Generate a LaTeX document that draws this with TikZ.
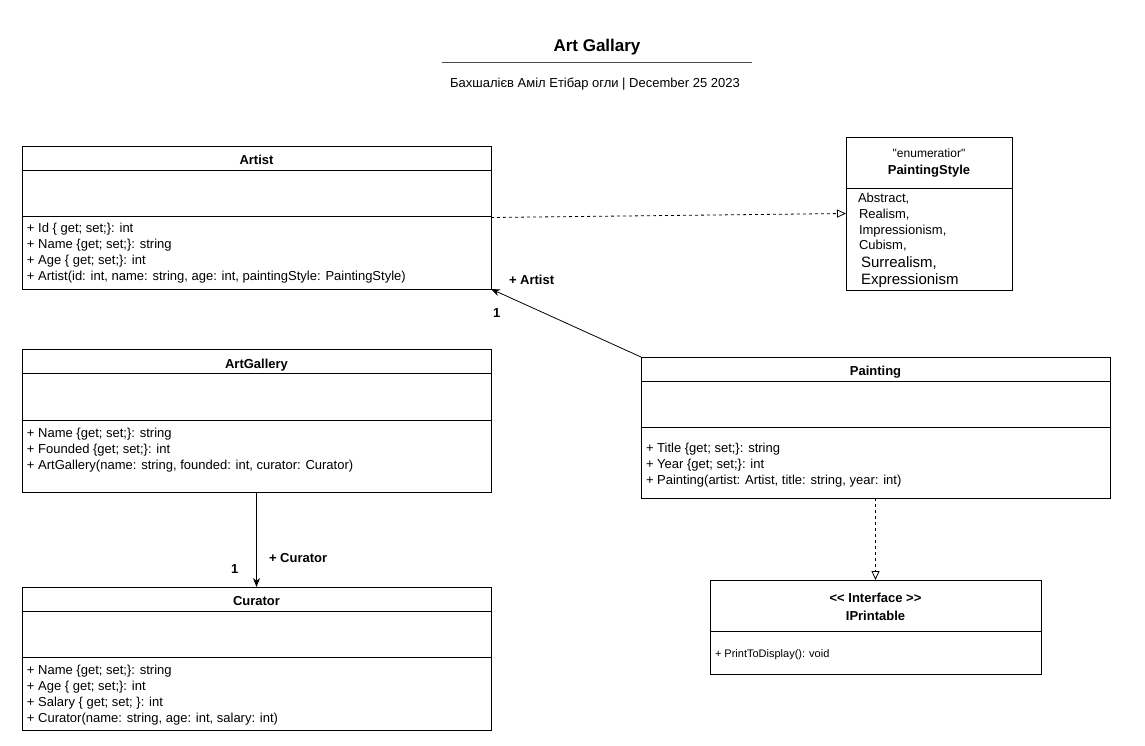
\documentclass[tikz,border=0pt]{standalone}
\usepackage{fontspec}
\setmainfont{Liberation Sans}[Ligatures=TeXOff]
\usetikzlibrary{arrows.meta}

\begin{document}
\begin{tikzpicture}[y=1pt, x=1pt, yscale=-1, inner sep=0pt, outer sep=0pt,
  classbox/.style={draw=black, line width=0.8pt, rectangle, anchor=north west, minimum width=469pt, minimum height=143pt},
  sep/.style={draw=black, line width=0.8pt},
  member/.style={anchor=base west, font=\fontsize{13}{15}\selectfont},
  cname/.style={anchor=base, font=\fontsize{13}{15}\selectfont\bfseries},
  role/.style={anchor=base west, font=\fontsize{13}{15}\selectfont\bfseries},
  assoc/.style={draw=black, line width=0.8pt, -{Stealth[length=9pt,width=7pt]}},
  realize/.style={draw=black, line width=0.8pt, dash pattern=on 3pt off 3pt, -{Triangle[open,length=9pt,width=8pt]}}]
\useasboundingbox (0,0) rectangle (1145,746);
\definecolor{rule}{rgb}{0.3,0.3,0.3}
% title
\node [anchor=base, font=\fontsize{17}{20}\selectfont\bfseries] (title) at (597,51.5) {Art Gallary};
\draw [rule, line width=1pt] (442,63) -- (752,63);
\node [anchor=base, font=\fontsize{13}{15}\selectfont] (author) at (595,88) {Бахшалієв Аміл Етібар огли | December 25 2023};

% Artist
\node [classbox] (artist) at (22,146) {};
\draw [sep] (artist.north west) ++(0,24) -- ++(469,0);
\draw [sep] (artist.north west) ++(0,70) -- ++(469,0);
\node [cname] (artistName) at (256.5,165) {Artist};
\node [member] (artistA) at (27,232.5) {+ Id \{ get; set;\}: int};
\node [member] (artistB) at (27,248.5) {+ Name \{get; set;\}: string};
\node [member] (artistC) at (27,264.5) {+ Age \{ get; set;\}: int};
\node [member] (artistD) at (27,280) {+ Artist(id: int, name: string, age: int, paintingStyle: PaintingStyle)};

% PaintingStyle
\node [classbox, minimum width=166pt, minimum height=153pt] (style) at (846,137) {};
\draw [sep] (style.north west) ++(0,51) -- ++(166,0);
\node [anchor=base, font=\fontsize{12}{14}\selectfont] (styleKind) at (929,158) {"enumeratior"};
\node [cname] (styleName) at (929,174.5) {PaintingStyle};
\node [member] (styleA) at (858,203) {Abstract,};
\node [member] (styleB) at (859,218.5) {Realism,};
\node [member] (styleC) at (859,234) {Impressionism,};
\node [member] (styleD) at (859,249.5) {Cubism,};
\node [member, font=\fontsize{15}{17}\selectfont] (styleE) at (861,267) {Surrealism,};
\node [member, font=\fontsize{15}{17}\selectfont] (styleF) at (861,284.5) {Expressionism};

% ArtGallery
\node [classbox] (gallery) at (22,349) {};
\draw [sep] (gallery.north west) ++(0,24) -- ++(469,0);
\draw [sep] (gallery.north west) ++(0,71) -- ++(469,0);
\node [cname] (galleryName) at (256.5,368) {ArtGallery};
\node [member] (galleryA) at (27,437) {+ Name \{get; set;\}: string};
\node [member] (galleryB) at (27,453) {+ Founded \{get; set;\}: int};
\node [member] (galleryC) at (27,469) {+ ArtGallery(name: string, founded: int, curator: Curator)};

% Curator
\node [classbox] (curator) at (22,587) {};
\draw [sep] (curator.north west) ++(0,24) -- ++(469,0);
\draw [sep] (curator.north west) ++(0,70) -- ++(469,0);
\node [cname] (curatorName) at (256.5,605) {Curator};
\node [member] (curatorA) at (27,674) {+ Name \{get; set;\}: string};
\node [member] (curatorB) at (27,690) {+ Age \{ get; set;\}: int};
\node [member] (curatorC) at (27,706) {+ Salary \{ get; set; \}: int};
\node [member] (curatorD) at (27,722) {+ Curator(name: string, age: int, salary: int)};

% Painting
\node [classbox, minimum height=141pt] (painting) at (641,357) {};
\draw [sep] (painting.north west) ++(0,24) -- ++(469,0);
\draw [sep] (painting.north west) ++(0,70) -- ++(469,0);
\node [cname] (paintingName) at (875.5,375) {Painting};
\node [member] (paintingA) at (646,452) {+ Title \{get; set;\}: string};
\node [member] (paintingB) at (646,468) {+ Year \{get; set;\}: int};
\node [member] (paintingC) at (646,484) {+ Painting(artist: Artist, title: string, year: int)};

% IPrintable
\node [classbox, minimum width=331pt, minimum height=94pt] (printable) at (710,580) {};
\draw [sep] (printable.north west) ++(0,51) -- ++(331,0);
\node [cname] (printableKind) at (875.5,602) {<< Interface >>};
\node [cname] (printableName) at (875.5,620) {IPrintable};
\node [member, font=\fontsize{11}{13}\selectfont] (printableA) at (715,657) {+ PrintToDisplay(): void};

% relations
\draw [realize] (artist.east) -- (style.west);
\draw [assoc] (painting.north west) -- (artist.south east);
\node [role] (artistRole) at (509,284) {+ Artist};
\node [role] (artistMult) at (493,317) {1};
\draw [assoc] (gallery.south) -- (curator.north);
\node [role] (curatorRole) at (269,562) {+ Curator};
\node [role] (curatorMult) at (231,573) {1};
\draw [realize] (painting.south) -- (printable.north);

\end{tikzpicture}
\end{document}
